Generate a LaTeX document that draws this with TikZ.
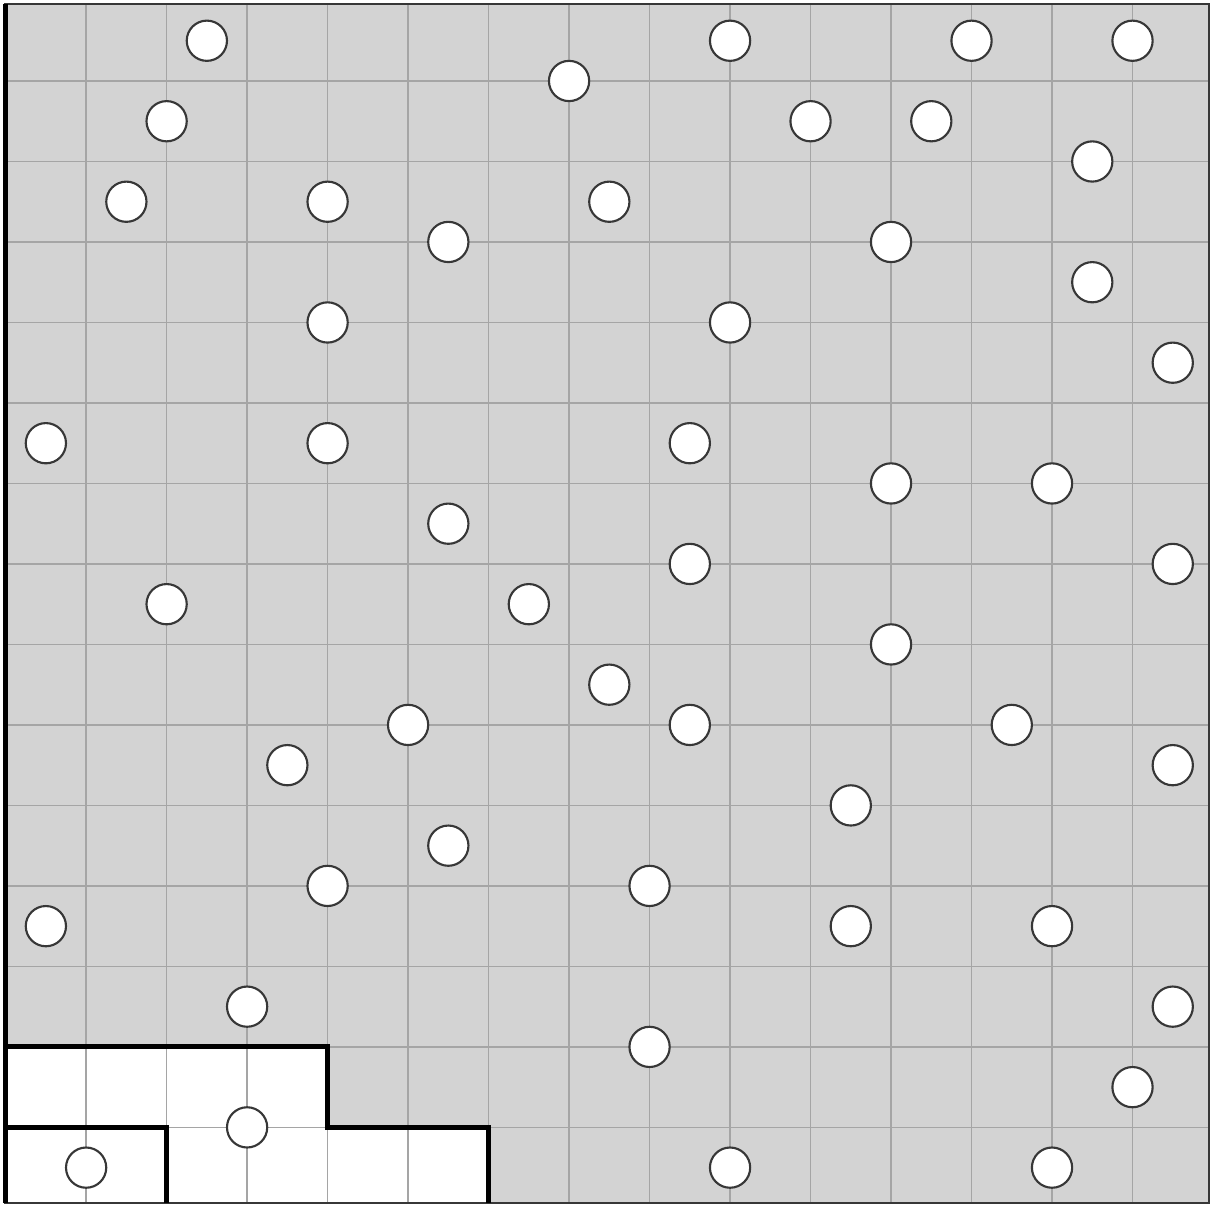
\documentclass[tikz,border=0pt]{standalone}
\definecolor{boardgray}{RGB}{211,211,211}
\definecolor{gridgray}{RGB}{165,165,165}
\definecolor{ringgray}{RGB}{55,55,55}
\tikzset{
  gridline/.style={draw=gridgray, line width=0.5pt},
  token/.style={circle, draw=ringgray, fill=white, line width=0.75pt, minimum size=0.5cm, inner sep=0pt},
  regionline/.style={draw=black, line width=1.7pt},
}
\begin{document}
\begin{tikzpicture}
\useasboundingbox (-0.07,0.006) rectangle (15.0,-14.964);
% board
\fill[boardgray] (0,-0.045) rectangle (14.95,-14.94);
\fill[white] (0,-13) -- (4,-13) -- (4,-14) -- (6,-14) -- (6,-14.94) -- (0,-14.94) -- cycle;
\foreach \i in {1,...,14} {
  \draw[gridline] (\i,-0.045) -- (\i,-14.94);
  \draw[gridline] (0,-\i) -- (14.95,-\i);
}
\draw[draw=ringgray, line width=0.9pt] (0,-0.045) rectangle (14.95,-14.94);
\draw[black, line width=1.6pt] (0,-0.045) -- (0,-14.94);
% regions
\draw[regionline] (0,-13) -- (4,-13) -- (4,-14) -- (6,-14) -- (6,-14.94);
\draw[regionline] (0,-14) -- (2,-14) -- (2,-14.94);
% tokens
\foreach \u/\v [count=\n] in {2.5/0.5,9/0.5,12/0.5,14/0.5,7/1,2/1.5,10/1.5,11.5/1.5,13.5/2,1.5/2.5,4/2.5,7.5/2.5,5.5/3,11/3,13.5/3.5,4/4,9/4,14.5/4.5,0.5/5.5,4/5.5,8.5/5.5,11/6,13/6,5.5/6.5,8.5/7,14.5/7,2/7.5,6.5/7.5,11/8,7.5/8.5,5/9,8.5/9,12.5/9,3.5/9.5,14.5/9.5,10.5/10,5.5/10.5,4/11,8/11,0.5/11.5,10.5/11.5,13/11.5,3/12.5,14.5/12.5,8/13,14/13.5,3/14,1/14.5,9/14.5,13/14.5}
  \node[token] (c\n) at (\u,-\v) {};
\end{tikzpicture}
\end{document}
